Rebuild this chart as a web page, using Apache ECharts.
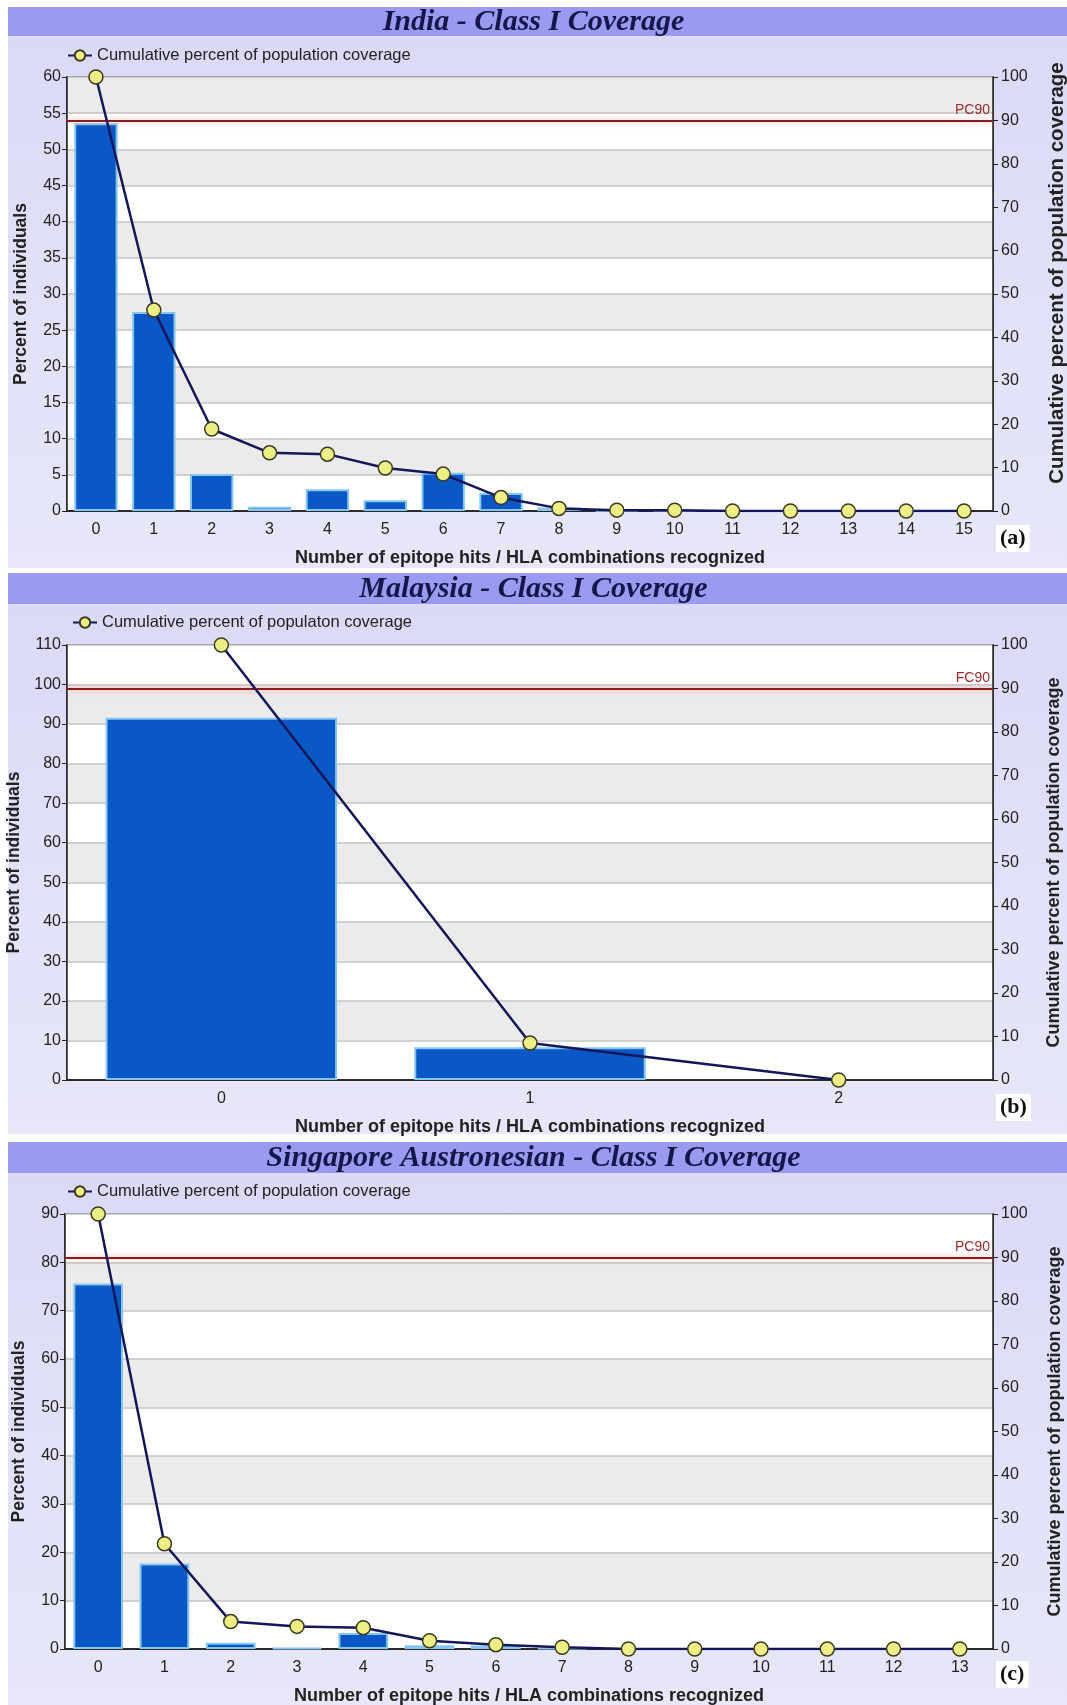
<!DOCTYPE html>
<html>
<head>
<meta charset="utf-8">
<script src="https://cdn.jsdelivr.net/npm/echarts@6/dist/echarts.min.js"></script>
<style>
  html, body { margin: 0; padding: 0; background: #ffffff; }
  #wrap { position: relative; width: 1067px; height: 1705px; overflow: hidden; }
  .band { position: absolute; left: 8px; right: 0; background: #9a9af0; }
  .body { position: absolute; left: 8px; right: 0; background: linear-gradient(#dadaf8, #e7e7f9); }
  #chart { position: absolute; left: 0; top: 0; width: 1067px; height: 1705px; }
</style>
</head>
<body>
<div id="wrap">
  <div class="band" style="top:7px;height:29px"></div>
  <div class="body" style="top:36px;height:532px"></div>
  <div class="band" style="top:573px;height:31px"></div>
  <div class="body" style="top:604px;height:530px"></div>
  <div class="band" style="top:1142px;height:31px"></div>
  <div class="body" style="top:1173px;height:532px"></div>
  <div id="chart"></div>
</div>
<script>
// ---------- data ----------
var categoriesA = ['0','1','2','3','4','5','6','7','8','9','10','11','12','13','14','15'];
var barsA = [53.6, 27.5, 5.1, 0.6, 3.0, 1.5, 5.3, 2.5, 0.5, 0.1, 0.1, 0, 0, 0, 0, 0];
var cumA  = [100, 46.3, 18.9, 13.4, 13.1, 9.9, 8.5, 3.1, 0.6, 0.2, 0.2, 0, 0, 0, 0, 0];

var categoriesB = ['0','1','2'];
var barsB = [91.6, 8.3, 0];
var cumB  = [100, 8.5, 0];

var categoriesC = ['0','1','2','3','4','5','6','7','8','9','10','11','12','13'];
var barsC = [75.6, 17.7, 1.3, 0.2, 3.3, 0.8, 0.7, 0.2, 0, 0, 0, 0, 0, 0];
var cumC  = [100, 24.2, 6.3, 5.2, 4.9, 1.9, 1.0, 0.4, 0, 0, 0, 0, 0, 0];

var titles = ['India - Class I Coverage', 'Malaysia - Class I Coverage', 'Singapore Austronesian - Class I Coverage'];
var legendNames = ['Cumulative percent of population coverage', 'Cumulative percent of populaton coverage', 'Cumulative percent of population coverage'];
var pcLabels = ['PC90', 'FC90', 'PC90'];
var panelLetters = ['(a)', '(b)', '(c)'];
var leftMax = [60, 110, 90];
var leftInterval = [5, 10, 10];
var rightMax = [100, 100, 100];
var rightInterval = [10, 10, 10];
var pcValue = 90;
var xTitle = 'Number of epitope hits / HLA combinations recognized';
var leftTitle = 'Percent of individuals';
var rightTitle = 'Cumulative percent of population coverage';

// ---------- layout ----------
var FONT = 'Liberation Sans, Arial, sans-serif';
var layout = [
  {gridTop: 77, gridH: 434, left: 67, titleY: 7, legendY: 47, legendX: 67, letterY: 525, rightNameSize: 20.5, rightGap: 54, rightPad: [0, 0, 0, 42]},
  {gridTop: 645, gridH: 435, left: 67, titleY: 574, legendY: 614, legendX: 72, letterY: 1094, rightNameSize: 18, rightGap: 52, rightPad: 0},
  {gridTop: 1214, gridH: 435, left: 65, titleY: 1143, legendY: 1183, legendX: 67, letterY: 1661, rightNameSize: 18, rightGap: 53, rightPad: 0}
];
var cats = [categoriesA, categoriesB, categoriesC];
var bars = [barsA, barsB, barsC];
var cums = [cumA, cumB, cumC];

var option = {
  animation: false,
  title: [], legend: [], grid: [], xAxis: [], yAxis: [], series: []
};

function barData(arr) {
  return arr.map(function (v) {
    return v > 0 ? v : {value: v, itemStyle: {borderWidth: 0, opacity: 0}};
  });
}

for (var i = 0; i < 3; i++) {
  var L = layout[i];
  option.title.push({
    text: titles[i], left: 'center', top: L.titleY, padding: 0,
    textStyle: {fontFamily: 'Liberation Serif, Times New Roman, serif', fontStyle: 'italic', fontWeight: 'bold', fontSize: 30, color: '#16164a'}
  });
  option.title.push({
    text: panelLetters[i], left: 996, top: L.letterY, padding: [2, 4, 3, 4], backgroundColor: '#ffffff',
    textStyle: {fontFamily: 'Liberation Serif, Times New Roman, serif', fontWeight: 'bold', fontSize: 22, color: '#111'}
  });
  option.legend.push({
    left: L.legendX, top: L.legendY, padding: 0, itemWidth: 24, itemHeight: 13, itemGap: 4,
    data: [legendNames[i]],
    textStyle: {fontFamily: FONT, fontSize: 16.5, color: '#222'}
  });
  option.grid.push({
    left: L.left, right: 74, top: L.gridTop, height: L.gridH,
    containLabel: false, outerBoundsMode: 'none',
    show: true, backgroundColor: '#ffffff', borderColor: '#222', borderWidth: 1.5
  });
  option.xAxis.push({
    type: 'category', gridIndex: i, data: cats[i], boundaryGap: true,
    name: xTitle, nameLocation: 'middle', nameGap: 38,
    nameTextStyle: {fontFamily: FONT, fontWeight: 'bold', fontSize: 18, color: '#222'},
    axisLine: {lineStyle: {color: '#222', width: 1.5}},
    axisTick: {alignWithLabel: true, length: 5, lineStyle: {color: '#222'}},
    axisLabel: {fontFamily: FONT, fontSize: 16, color: '#222', margin: 11}
  });
  option.yAxis.push({
    type: 'value', gridIndex: i, min: 0, max: leftMax[i], interval: leftInterval[i],
    name: leftTitle, nameLocation: 'middle', nameGap: 37,
    nameTextStyle: {fontFamily: FONT, fontWeight: 'bold', fontSize: 17.5, color: '#222'},
    axisLine: {show: true, lineStyle: {color: '#222', width: 1.5}},
    axisTick: {show: true, length: 5, lineStyle: {color: '#222'}},
    axisLabel: {fontFamily: FONT, fontSize: 16, color: '#222', margin: 6},
    splitLine: {show: true, lineStyle: {color: '#c4c4c4', width: 1.5}},
    splitArea: {show: true, areaStyle: {color: ['#ffffff', '#ebebeb']}}
  });
  option.yAxis.push({
    type: 'value', gridIndex: i, position: 'right', min: 0, max: rightMax[i], interval: rightInterval[i],
    name: rightTitle, nameLocation: 'middle', nameGap: L.rightGap, nameRotate: 90,
    nameTextStyle: {fontFamily: FONT, fontWeight: 'bold', fontSize: L.rightNameSize, color: '#222', padding: L.rightPad},
    axisLine: {show: true, lineStyle: {color: '#222', width: 1.5}},
    axisTick: {show: true, length: 5, lineStyle: {color: '#222'}},
    axisLabel: {fontFamily: FONT, fontSize: 16, color: '#222', margin: 8},
    splitLine: {show: false}
  });
  option.series.push({
    type: 'bar', name: 'Percent of individuals ' + i, xAxisIndex: i, yAxisIndex: 2 * i,
    data: barData(bars[i]), barCategoryGap: '25%',
    itemStyle: {color: '#0a58c6', borderColor: '#86c6ee', borderWidth: 2},
    z: 2
  });
  option.series.push({
    type: 'line', name: legendNames[i], xAxisIndex: i, yAxisIndex: 2 * i + 1,
    data: cums[i], symbol: 'circle', symbolSize: 14,
    lineStyle: {color: '#15155a', width: 2.5},
    itemStyle: {color: '#eeee86', borderColor: '#3a3a20', borderWidth: 1.5},
    z: 5,
    markLine: {
      silent: true, symbol: 'none',
      lineStyle: {color: '#8e1b1b', width: 2, type: 'solid', shadowColor: 'rgba(240,110,110,0.6)', shadowBlur: 6},
      label: {show: true, position: 'insideEndTop', formatter: pcLabels[i], color: '#9a2a2a', fontFamily: FONT, fontSize: 14, distance: 3},
      data: [{yAxis: pcValue}]
    }
  });
}
// top frame lines (drawn above the split lines)
for (var j = 0; j < 3; j++) {
  option.xAxis.push({
    type: 'category', gridIndex: j, position: 'top', data: cats[j],
    axisLine: {show: true, lineStyle: {color: '#222', width: 1.5}},
    axisTick: {show: false}, axisLabel: {show: false}, splitLine: {show: false}
  });
}

var chart = echarts.init(document.getElementById('chart'), null, {renderer: 'canvas'});
chart.setOption(option);
</script>
</body>
</html>
